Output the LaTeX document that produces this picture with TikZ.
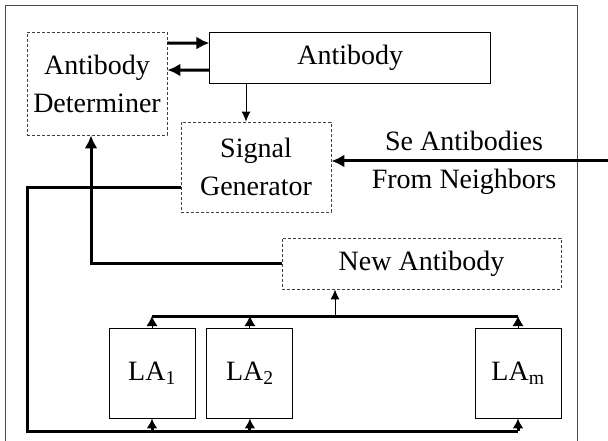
\documentclass[tikz,border=0pt]{standalone}
\usepackage{fontspec}
\setmainfont{Liberation Serif}
\usetikzlibrary{arrows.meta}
\usetikzlibrary{positioning}

\begin{document}
\begin{tikzpicture}[x=1pt, y=1pt, >=Latex,
	dbox/.style={draw=black!75, dashed, dash pattern=on 3pt off 2pt, line width=0.8pt, inner sep=0pt},
	sbox/.style={draw, line width=0.9pt, inner sep=0pt},
	fat/.style={line width=3pt, -{Latex[length=13pt, width=13pt]}},
	thin/.style={line width=0.9pt, -{Latex[length=10pt, width=9pt]}},
	every node/.style={font=\fontsize{28}{38}\selectfont, align=center}]
	\useasboundingbox (0,0) rectangle (608,-441);
	% Frame
	\draw[black!70, line width=1pt] (5,-441) -- (5,-6) -- (577,-6) -- (577,-441);
	
	% Boxes at the top
	\node (det) [dbox, minimum width=140pt, minimum height=103pt] at (97,-83.5) {Antibody\\Determiner};
	\node (ab) [sbox, minimum width=281pt, minimum height=51pt, right=42pt of det.north east, anchor=north west] {Antibody};
	\node (sig) [dbox, minimum width=150pt, minimum height=90pt] at (256,-167) {Signal\\Generator};
	\coordinate (sigin) at ([xshift=-10pt]sig.north);
	
	% Input from neighbors
	\coordinate (src) at (608,-161);
	\node (inlbl) at (464,-163) {Se Antibodies\\From Neighbors};
	
	% New antibody and learning automata
	\node (new) [dbox, minimum width=279pt, minimum height=51pt] at (421.5,-263.5) {New Antibody};
	\coordinate (newin) at ([xshift=-86.5pt]new.south);
	\node (la1) [sbox, minimum width=86pt, minimum height=90pt] at (152,-373) {LA\textsubscript{1}};
	\node (la2) [sbox, minimum width=86pt, minimum height=90pt, right=11pt of la1] {LA\textsubscript{2}};
	\node (lam) [sbox, minimum width=86pt, minimum height=90pt] at (518,-373) {LA\textsubscript{m}};
	\coordinate (bus) at (0,-316);
	\coordinate (bot) at (27,-431);
	
	% Arrows between determiner and antibody
	\draw[fat] ([yshift=40.5pt]det.east) -- ([yshift=14.5pt]ab.west);
	\draw[fat] ([yshift=-12.5pt]ab.west) -- ([yshift=13.5pt]det.east);
	\draw[thin] (ab.south -| sigin) -- (sigin);
	\draw[fat] (src) -- (src -| sig.east);
	
	% Feedback to the automata
	\draw[line width=3pt] ([yshift=-21pt]sig.west) -| (bot) -- (bot -| lam.south);
	\foreach \la in {la1, la2, lam}
		\draw[line width=3pt, -{Latex[length=10pt, width=11pt]}] (bot -| \la.south) -- (\la.south);
	
	% Automata to new antibody
	\draw[line width=3pt] (bus -| la1.north) -- (bus -| lam.north);
	\foreach \la in {la1, la2, lam}
		\draw[line width=0.9pt, -{Latex[length=10pt, width=11pt]}] (\la.north) -- (bus -| \la.north);
	\draw[thin] (bus -| newin) -- (newin);
	\draw[fat] (new.west) -| ([xshift=-6pt]det.south);
\end{tikzpicture}
\end{document}
